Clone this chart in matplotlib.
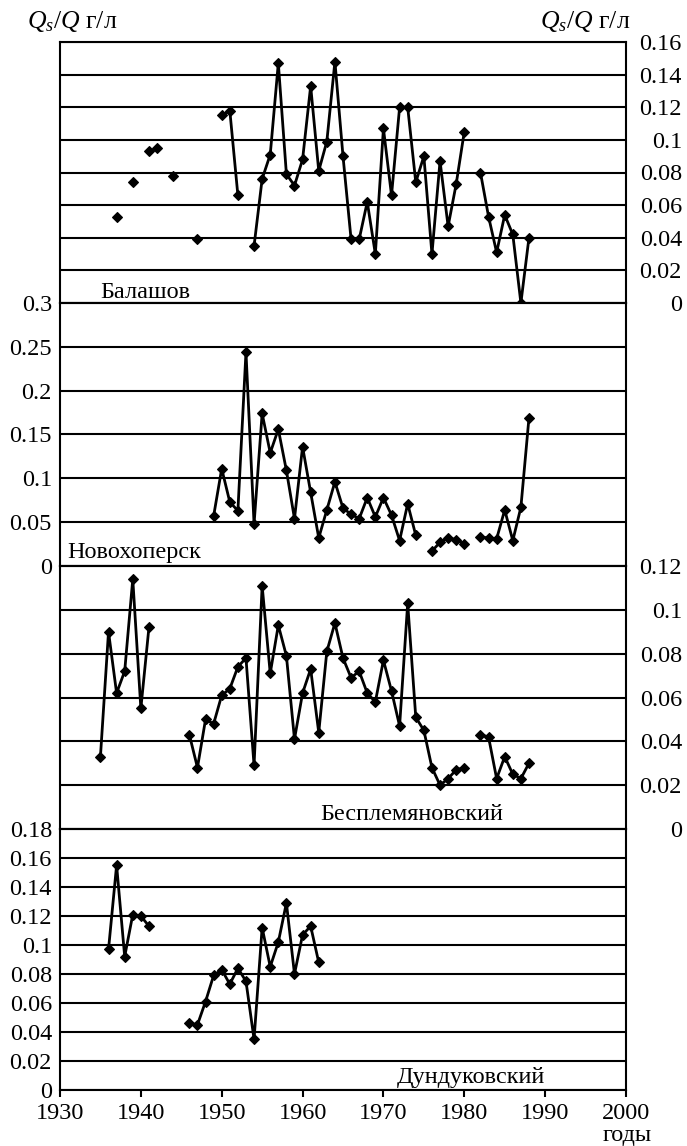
import numpy as np
import matplotlib
matplotlib.use("Agg")
import matplotlib.pyplot as plt

nan = np.nan

# ---------------- data ----------------
bal_early_years = [1937, 1939, 1941, 1942, 1944, 1947]
bal_early_vals = [0.053, 0.074, 0.093, 0.095, 0.078, 0.039]
bal_years = list(range(1950, 1989))
bal_vals = [0.115, 0.118, 0.066, nan, 0.035, 0.076, 0.091, 0.147, 0.079, 0.072,
            0.088, 0.133, 0.081, 0.099, 0.148, 0.090, 0.039, 0.039, 0.062, 0.030,
            0.107, 0.066, 0.120, 0.120, 0.074, 0.090, 0.030, 0.087, 0.047, 0.073,
            0.105, nan, 0.080, 0.053, 0.031, 0.054, 0.042, 0.0, 0.040]

nov_years = list(range(1949, 1989))
nov_vals = [0.057, 0.111, 0.073, 0.063, 0.244, 0.048, 0.174, 0.129, 0.156, 0.109,
            0.054, 0.136, 0.084, 0.032, 0.064, 0.096, 0.066, 0.059, 0.054, 0.078,
            0.056, 0.078, 0.058, 0.029, 0.071, 0.035, nan, 0.017, 0.027, 0.032,
            0.030, 0.025, nan, 0.033, 0.032, 0.031, 0.064, 0.029, 0.067, 0.169]

bes_years = list(range(1935, 1989))
bes_vals = [0.033, 0.090, 0.062, 0.072, 0.114, 0.055, 0.092, nan, nan, nan,
            nan, 0.043, 0.028, 0.050, 0.048, 0.061, 0.064, 0.074, 0.078, 0.029,
            0.111, 0.071, 0.093, 0.079, 0.041, 0.062, 0.073, 0.044, 0.081, 0.094,
            0.078, 0.069, 0.072, 0.062, 0.058, 0.077, 0.063, 0.047, 0.103, 0.051,
            0.045, 0.028, 0.020, 0.023, 0.027, 0.028, nan, 0.043, 0.042, 0.023,
            0.033, 0.025, 0.023, 0.030]

dun_years = list(range(1936, 1963))
dun_vals = [0.097, 0.155, 0.092, 0.121, 0.120, 0.113, nan, nan, nan, nan,
            0.046, 0.045, 0.061, 0.079, 0.083, 0.073, 0.084, 0.075, 0.035, 0.112,
            0.085, 0.102, 0.129, 0.080, 0.107, 0.113, 0.088]

bal_ticks = [0, 0.02, 0.04, 0.06, 0.08, 0.10, 0.12, 0.14, 0.16]
bal_ticklabels = ["0", "0.02", "0.04", "0.06", "0.08", "0.1", "0.12", "0.14", "0.16"]
nov_ticks = [0, 0.05, 0.10, 0.15, 0.20, 0.25, 0.30]
nov_ticklabels = ["0", "0.05", "0.1", "0.15", "0.2", "0.25", "0.3"]
bes_ticks = [0, 0.02, 0.04, 0.06, 0.08, 0.10, 0.12]
bes_ticklabels = ["0", "0.02", "0.04", "0.06", "0.08", "0.1", "0.12"]
dun_ticks = [0, 0.02, 0.04, 0.06, 0.08, 0.10, 0.12, 0.14, 0.16, 0.18]
dun_ticklabels = ["0", "0.02", "0.04", "0.06", "0.08", "0.1", "0.12", "0.14", "0.16", "0.18"]

x_ticks = [1930, 1940, 1950, 1960, 1970, 1980, 1990, 2000]
x_ticklabels = ["1930", "1940", "1950", "1960", "1970", "1980", "1990", "2000"]

station_names = ["Балашов", "Новохоперск", "Бесплемяновский", "Дундуковский"]

# ---------------- style ----------------
plt.rcParams['font.family'] = ['Liberation Serif', 'DejaVu Serif']
plt.rcParams['mathtext.fontset'] = 'custom'
plt.rcParams['mathtext.rm'] = 'Liberation Serif'
plt.rcParams['mathtext.it'] = 'Liberation Serif:italic'
FS = 17.5
plt.rcParams['font.size'] = FS

W, H = 687, 1146
fig = plt.figure(figsize=(W / 100, H / 100), dpi=100)

LW = 1.5
left_px, right_px = 60, 626
panels_px = [(42, 303), (303, 566), (566, 829), (829, 1090)]

def axpos(top, bot):
    return [left_px / W, 1 - bot / H, (right_px - left_px) / W, (bot - top) / H]

axes = [fig.add_axes(axpos(t, b)) for t, b in panels_px]

configs = [
    (bal_ticks, bal_ticklabels, 'right'),
    (nov_ticks, nov_ticklabels, 'left'),
    (bes_ticks, bes_ticklabels, 'right'),
    (dun_ticks, dun_ticklabels, 'left'),
]

for ax, (ticks, labels, side) in zip(axes, configs):
    ax.set_xlim(1930, 2000)
    ax.set_ylim(ticks[0], ticks[-1])
    ax.set_yticks(ticks)
    ax.set_yticklabels(labels)
    ax.yaxis.grid(True, color='black', linewidth=LW)
    ax.set_axisbelow(True)
    for sp in ax.spines.values():
        sp.set_linewidth(LW)
        sp.set_color('black')
    ax.tick_params(axis='x', bottom=False, labelbottom=False)
    if side == 'right':
        ax.yaxis.tick_right()
        ax.tick_params(axis='y', length=0, pad=40.3, labelsize=FS)
        for lab in ax.get_yticklabels():
            lab.set_horizontalalignment('right')
    else:
        ax.tick_params(axis='y', length=0, pad=5.8, labelsize=FS)

# bottom axis ticks
ax4 = axes[3]
ax4.set_xticks(x_ticks)
ax4.set_xticklabels(x_ticklabels)
ax4.tick_params(axis='x', bottom=True, labelbottom=True, direction='out',
                length=5, width=LW, pad=4.5, labelsize=FS)

mkw = dict(color='black', linewidth=2.0, marker='D', markersize=4.6,
           markeredgewidth=0.8, clip_on=False, zorder=5)

axes[0].plot(bal_early_years, bal_early_vals, linestyle='none',
             **{k: v for k, v in mkw.items() if k != 'linewidth'})
axes[0].plot(bal_years, bal_vals, **mkw)
axes[1].plot(nov_years, nov_vals, **mkw)
axes[2].plot(bes_years, bes_vals, **mkw)
axes[3].plot(dun_years, dun_vals, **mkw)

# station names
name_pos = [(100, 293), (67, 553), (320, 815), (397, 1077)]
for name, (x, y) in zip(station_names, name_pos):
    fig.text(x / W, 1 - y / H, name, ha='left', va='center', fontsize=FS)

# axis titles
fig.text(27 / W, 1 - 21 / H, r"$Q_s/Q$ г/л", ha='left', va='center', fontsize=18.5)
fig.text(630 / W, 1 - 21 / H, r"$Q_s/Q$ г/л", ha='right', va='center', fontsize=18.5)
fig.text(627 / W, 1 - 1135 / H, "годы", ha='center', va='center', fontsize=FS)

fig.savefig("out.png", dpi=100)
